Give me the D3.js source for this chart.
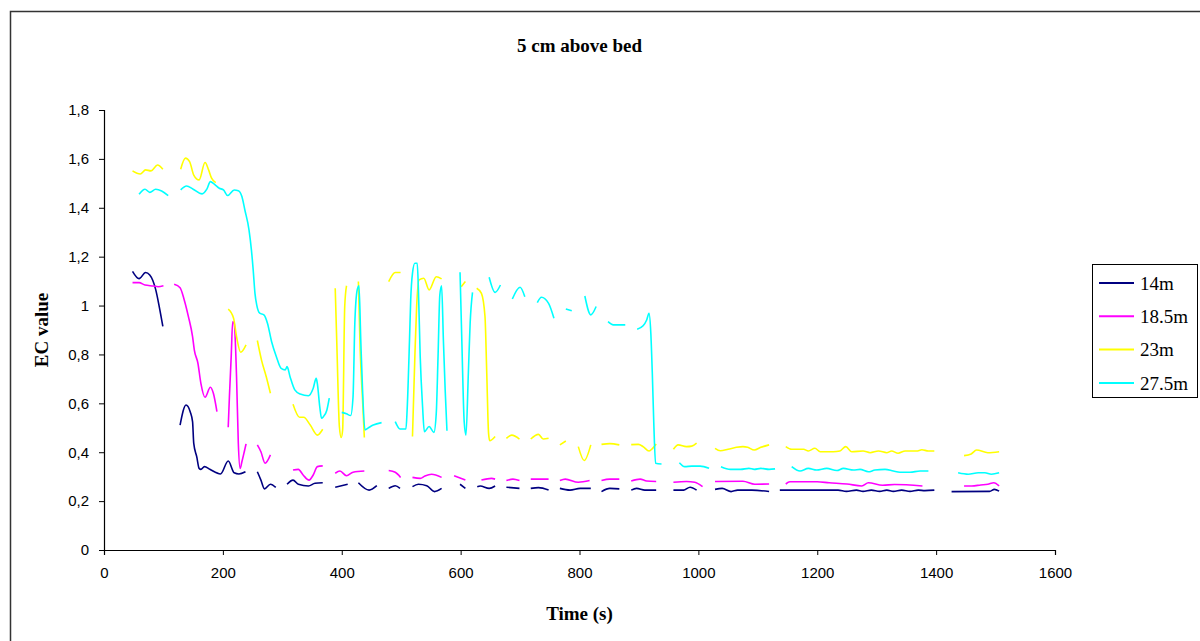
<!DOCTYPE html>
<html>
<head>
<meta charset="utf-8">
<script src="https://cdn.jsdelivr.net/npm/d3@7/dist/d3.min.js"></script>
<style>
  html, body { margin: 0; padding: 0; background: #fff; }
  svg { display: block; }
</style>
</head>
<body>
<svg id="chart" width="1200" height="641"></svg>
<script>
// EC readings at four distances, 5 cm above the bed. Each entry is [time (s), EC value];
// null marks a break in the record.
const series14 = [
  [48,1.14],[59,1.11],[70,1.135],[77,1.125],[87,1.065],[93,0.995],[99,0.915], null,
  [128,0.511],[138,0.593],[145,0.566],[149,0.525],[151,0.436],[156,0.382],[160,0.334],[163,0.33],[169,0.341],[178,0.33],[196,0.311],[209,0.364],[219,0.316],[227,0.311],[238,0.32], null,
  [258,0.32],[264,0.286],[270,0.25],[280,0.269],[289,0.256], null,
  [308,0.269],[318,0.286],[327,0.269],[344,0.262],[355,0.273],[368,0.275], null,
  [389,0.257],[410,0.269], null,
  [428,0.275],[446,0.245],[459,0.263], null,
  [479,0.252],[490,0.263],[498,0.252], null,
  [519,0.259],[529,0.269],[543,0.263],[556,0.239],[568,0.252], null,
  [599,0.269],[608,0.252], null,
  [628,0.259],[633,0.262],[648,0.252],[658,0.262], null,
  [677,0.257],[699,0.252], null,
  [718,0.252],[731,0.255],[748,0.245], null,
  [767,0.252],[784,0.245],[801,0.252],[819,0.252], null,
  [837,0.239],[851,0.252],[867,0.25], null,
  [887,0.245],[896,0.252],[910,0.245],[929,0.245], null,
  [958,0.245],[975,0.245],[986,0.257],[997,0.245], null,
  [1028,0.248],[1040,0.252],[1055,0.239],[1066,0.245],[1090,0.245],[1119,0.239], null,
  [1137,0.245],[1235,0.245],[1249,0.24],[1266,0.245],[1277,0.24],[1291,0.245],[1305,0.24],[1317,0.245],[1328,0.24],[1342,0.245],[1356,0.24],[1370,0.245],[1381,0.243],[1397,0.245], null,
  [1426,0.239],[1490,0.24],[1498,0.248],[1506,0.241]
];

const series185 = [
  [48,1.094],[59,1.094],[69,1.084],[83,1.08],[91,1.077],[100,1.081], null,
  [118,1.087],[128,1.073],[135,1.023],[142,0.955],[149,0.873],[152,0.818],[158,0.764],[163,0.682],[170,0.625],[179,0.666],[184,0.641],[190,0.566], null,
  [209,0.502],[211,0.627],[214,0.791],[216.5,0.934],[219,0.928],[223,0.709],[226,0.436],[229,0.334],[232,0.361],[236,0.402],[239,0.434], null,
  [258,0.43],[264,0.402],[271,0.355],[280,0.389], null,
  [318,0.327],[327,0.33],[335,0.307],[345,0.286],[352,0.307],[359,0.341],[368,0.344], null,
  [389,0.314],[397,0.323],[408,0.304],[419,0.318],[438,0.323], null,
  [479,0.325],[490,0.318],[499,0.297], null,
  [519,0.297],[532,0.293],[540,0.303],[551,0.31],[568,0.297], null,
  [589,0.304],[608,0.286], null,
  [635,0.286],[652,0.293],[658,0.29], null,
  [677,0.284],[688,0.29],[699,0.284], null,
  [718,0.29],[748,0.29], null,
  [767,0.284],[776,0.29],[798,0.277],[817,0.284], null,
  [837,0.284],[851,0.29],[867,0.29], null,
  [887,0.282],[902,0.29],[913,0.282],[929,0.28], null,
  [958,0.277],[980,0.28],[994,0.277],[1007,0.259], null,
  [1028,0.28],[1075,0.281],[1095,0.269],[1119,0.27], null,
  [1147,0.27],[1154,0.279],[1200,0.279],[1220,0.275],[1250,0.27],[1275,0.262],[1286,0.275],[1310,0.265],[1330,0.268],[1377,0.262], null,
  [1447,0.262],[1460,0.262],[1475,0.266],[1487,0.269],[1497,0.275],[1506,0.262]
];

const series23 = [
  [48,1.551],[61,1.538],[70,1.555],[79,1.551],[90,1.575],[99,1.558], null,
  [129,1.558],[137,1.603],[144,1.589],[151,1.534],[160,1.514],[170,1.585],[176,1.555],[181,1.521],[188,1.503], null,
  [209,0.985],[218,0.948],[223,0.873],[230,0.809],[239,0.839], null,
  [258,0.857],[265,0.777],[273,0.709],[280,0.641], null,
  [318,0.596],[329,0.543],[336,0.543],[347,0.511],[359,0.47],[368,0.494], null,
  [389,1.071],[392,0.818],[396,0.505],[399,0.46],[401.5,0.491],[405,0.996],[408,1.081], null,
  [428,1.098],[431,0.818],[435,0.614],[438,0.46], null,
  [479,1.098],[490,1.135],[499,1.135], null,
  [519,0.464],[523,0.791],[526,0.996],[530,1.105],[538,1.112],[547,1.064],[559,1.118],[568,1.109], null,
  [601,1.077],[608,1.098], null,
  [627,1.071],[635,1.05],[641,0.955],[644,0.72],[647,0.477],[649,0.447],[658,0.464], null,
  [677,0.457],[686,0.47],[699,0.454], null,
  [718,0.454],[731,0.473],[739,0.454],[748,0.457], null,
  [767,0.43],[777,0.446], null,
  [798,0.423],[808,0.366],[819,0.43], null,
  [837,0.432],[851,0.435],[867,0.43], null,
  [887,0.431],[899,0.432],[907,0.423],[917,0.405],[923,0.416],[929,0.434], null,
  [958,0.412],[966,0.43],[980,0.423],[989,0.425],[997,0.437], null,
  [1028,0.416],[1037,0.406],[1050,0.412],[1064,0.42],[1075,0.423],[1083,0.42],[1094,0.409],[1105,0.42],[1119,0.43], null,
  [1147,0.423],[1157,0.412],[1177,0.412],[1185,0.405],[1196,0.416],[1205,0.402],[1227,0.402],[1238,0.405],[1248,0.423],[1258,0.402],[1277,0.405],[1289,0.398],[1303,0.405],[1317,0.398],[1325,0.405],[1336,0.396],[1348,0.405],[1367,0.405],[1376,0.41],[1387,0.405],[1397,0.405], null,
  [1447,0.386],[1459,0.393],[1468,0.409],[1487,0.398],[1506,0.402]
];

const series275 = [
  [59,1.455],[69,1.476],[77,1.463],[87,1.476],[97,1.469],[108,1.45], null,
  [129,1.473],[139,1.489],[150,1.476],[165,1.457],[173,1.476],[179,1.507],[186,1.496],[194,1.48],[201,1.473],[208,1.45],[219,1.473],[226,1.47],[232,1.446],[237,1.391],[244,1.309],[248,1.228],[251,1.146],[254,1.05],[257,1.002],[262,0.969],[269,0.962],[275,0.928],[282,0.852],[290,0.791],[298,0.743],[305,0.737],[308,0.75],[313,0.709],[321,0.655],[330,0.638],[344,0.631],[352,0.662],[357,0.702],[359,0.68],[363,0.586],[366,0.539],[369,0.545],[375,0.573],[379,0.621], null,
  [400,0.563],[408,0.557],[415,0.55],[419,0.627],[422,0.928],[426,1.064],[429,1.081],[432,0.859],[435,0.655],[439,0.491],[445,0.5],[453,0.511],[467,0.521], null,
  [490,0.525],[498,0.495],[508,0.495],[510,0.573],[514,0.859],[516,1.023],[519,1.132],[523,1.173],[527,1.173],[529,1.064],[532,0.791],[536,0.586],[539,0.484],[547,0.505],[555,0.481],[559,0.559],[562,0.791],[565,1.043],[568,1.081],[571,0.859],[574,0.655],[577,0.488], null,
  [599,1.136],[602,0.859],[606,0.525],[609,0.47],[613,0.723],[616,0.928],[620,1.054], null,
  [648,1.116],[658,1.054],[667,1.084], null,
  [687,1.027],[700,1.075],[708,1.036], null,
  [729,1.012],[736,1.034],[748,1.009],[757,0.948], null,
  [777,0.986],[787,0.979], null,
  [809,1.039],[819,0.962],[828,0.996], null,
  [848,0.934],[857,0.921],[877,0.921], null,
  [897,0.903],[907,0.917],[913,0.941],[917,0.968],[920,0.887],[922.5,0.723],[925,0.518],[928,0.355],[938,0.352], null,
  [968,0.357],[977,0.341],[989,0.343],[1003,0.343],[1018,0.334], null,
  [1038,0.341],[1054,0.33],[1071,0.33],[1085,0.334],[1094,0.33],[1105,0.334],[1119,0.33],[1129,0.332], null,
  [1157,0.341],[1171,0.323],[1185,0.334],[1199,0.327],[1216,0.334],[1233,0.325],[1244,0.334],[1261,0.327],[1272,0.33],[1286,0.32],[1297,0.327],[1314,0.33],[1328,0.323],[1339,0.318],[1356,0.318],[1373,0.323],[1387,0.323], null,
  [1437,0.316],[1454,0.31],[1471,0.316],[1482,0.316],[1493,0.31],[1506,0.316]
];

const seriesNames = ["14m", "18.5m", "23m", "27.5m"];
const seriesColors = ["#000080", "#ff00ff", "#ffff00", "#00ffff"];
const xTicks = [0, 200, 400, 600, 800, 1000, 1200, 1400, 1600];
const yTicks = [0, 0.2, 0.4, 0.6, 0.8, 1, 1.2, 1.4, 1.6, 1.8];

const allSeries = [series14, series185, series23, series275];

const svg = d3.select("#chart");
const plot = { left: 104, right: 1055, top: 110, bottom: 550 };

// chart area frame
svg.append("rect")
  .attr("x", 10.5).attr("y", 11.5)
  .attr("width", 1300).attr("height", 800)
  .attr("fill", "#fff").attr("stroke", "#333").attr("stroke-width", 1.5);

const x = d3.scaleLinear().domain([0, 1600]).range([plot.left, plot.right]);
const y = d3.scaleLinear().domain([0, 1.8]).range([plot.bottom, plot.top]);

const fmtY = v => (v === 0 ? "0" : d3.format(".1f")(v).replace(".", ",").replace(",0", ""));

// axes
const xAxis = svg.append("g")
  .attr("transform", `translate(0,${plot.bottom})`)
  .call(d3.axisBottom(x).tickValues(xTicks).tickSize(5).tickPadding(12).tickFormat(d3.format("d")));
const yAxis = svg.append("g")
  .attr("transform", `translate(${plot.left},0)`)
  .call(d3.axisLeft(y).tickValues(yTicks).tickSize(5).tickPadding(10).tickFormat(fmtY));

[xAxis, yAxis].forEach(g => {
  g.select(".domain").attr("stroke", "#000").attr("stroke-width", 1.2);
  g.selectAll(".tick line").attr("stroke", "#000");
  g.selectAll(".tick text")
    .attr("font-family", "'Liberation Sans', Arial, sans-serif")
    .attr("font-size", 15).attr("fill", "#000");
});

// data lines
const line = d3.line()
  .defined(d => d !== null)
  .x(d => x(d[0]))
  .y(d => y(d[1]))
  .curve(d3.curveMonotoneX);

svg.append("g").selectAll("path")
  .data(allSeries)
  .join("path")
  .attr("d", line)
  .attr("fill", "none")
  .attr("stroke", (d, i) => seriesColors[i])
  .attr("stroke-width", 1.6)
  .attr("stroke-linejoin", "round");

// titles
const serif = "'Liberation Serif', 'Times New Roman', serif";
svg.append("text")
  .attr("x", (plot.left + plot.right) / 2).attr("y", 52)
  .attr("text-anchor", "middle")
  .attr("font-family", serif).attr("font-weight", "bold").attr("font-size", 19)
  .text("5 cm above bed");

svg.append("text")
  .attr("x", (plot.left + plot.right) / 2).attr("y", 620)
  .attr("text-anchor", "middle")
  .attr("font-family", serif).attr("font-weight", "bold").attr("font-size", 19)
  .text("Time (s)");

svg.append("text")
  .attr("transform", `translate(48,${(plot.top + plot.bottom) / 2}) rotate(-90)`)
  .attr("text-anchor", "middle")
  .attr("font-family", serif).attr("font-weight", "bold").attr("font-size", 19)
  .text("EC value");

// legend
const legend = svg.append("g").attr("transform", "translate(1092,264)");
legend.append("rect")
  .attr("x", 0.5).attr("y", 0.5).attr("width", 105).attr("height", 133)
  .attr("fill", "#fff").attr("stroke", "#000").attr("stroke-width", 1);
const items = legend.selectAll("g.item")
  .data(seriesNames)
  .join("g")
  .attr("class", "item")
  .attr("transform", (d, i) => `translate(0,${19 + i * 33.3})`);
items.append("line")
  .attr("x1", 7).attr("x2", 42)
  .attr("stroke", (d, i) => seriesColors[i]).attr("stroke-width", 2);
items.append("text")
  .attr("x", 48).attr("dy", "0.35em")
  .attr("font-family", serif).attr("font-size", 19)
  .text(d => d);
</script>
</body>
</html>
